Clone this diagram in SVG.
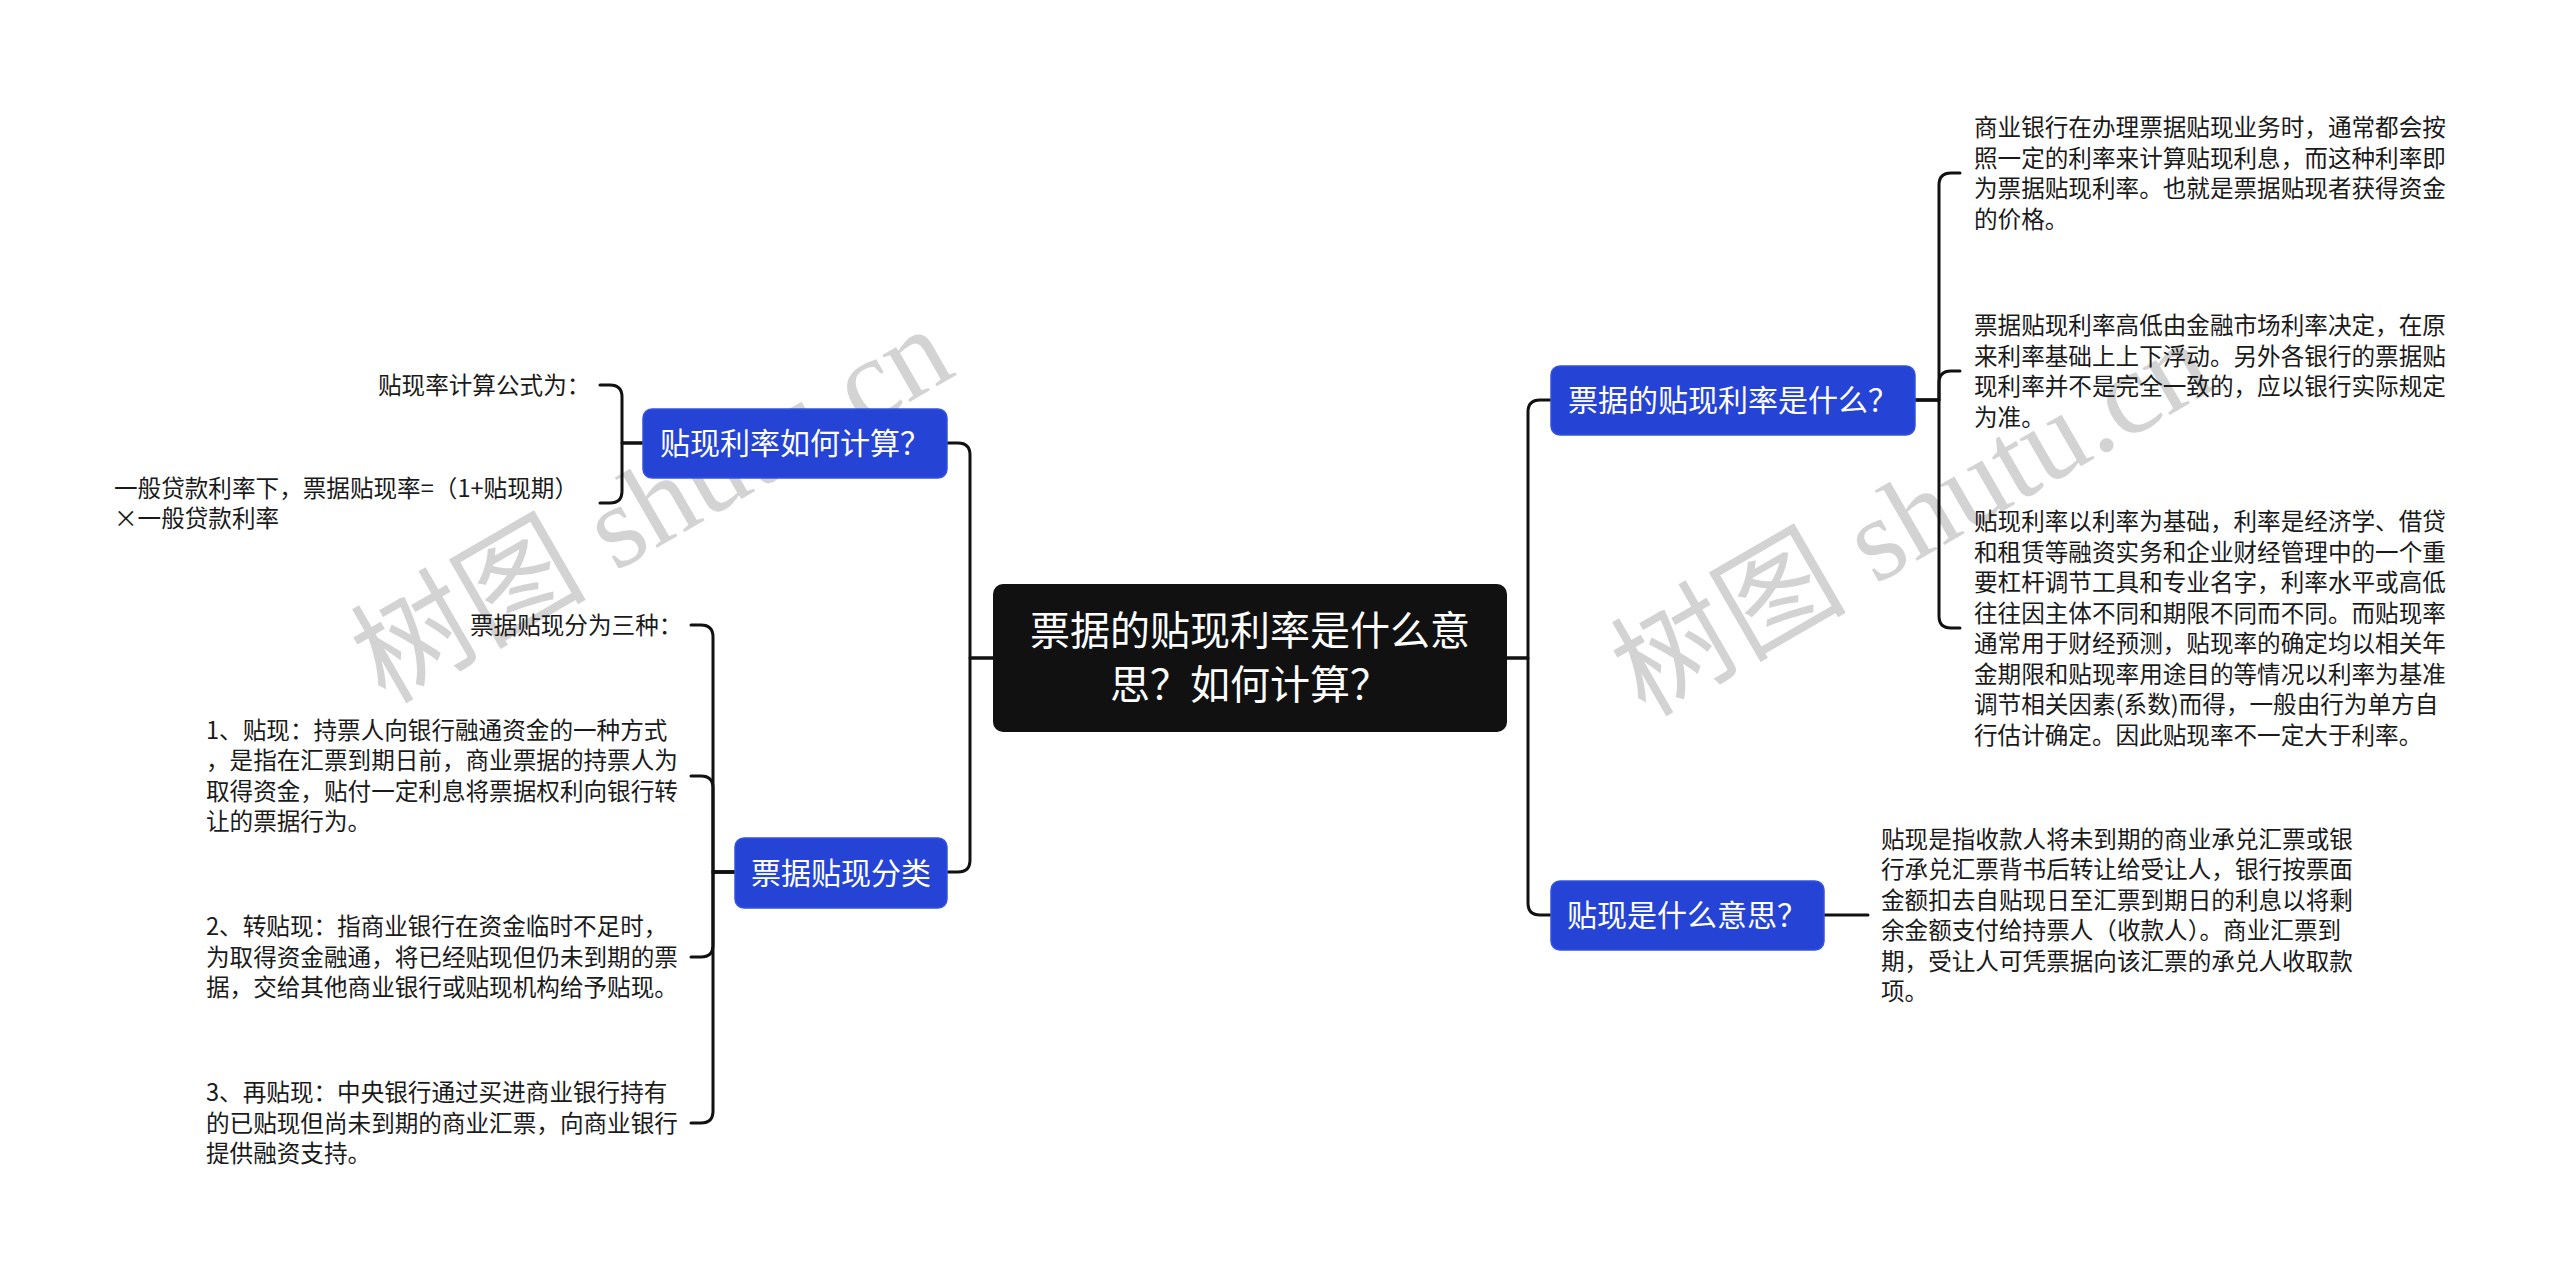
<svg xmlns="http://www.w3.org/2000/svg" width="2560" height="1281" viewBox="0 0 2560 1281">
<style>
.wm{font-family:"Liberation Serif","Noto Sans CJK SC",serif;font-size:118px;fill:#d3d3d3;}
.conn{fill:none;stroke:#111;stroke-width:3;stroke-linecap:round;stroke-linejoin:round;}
.leaf{font-family:"Noto Sans CJK SC","Noto Sans",sans-serif;font-size:23.6px;fill:#1a1a1a;}
.topic rect{fill:#2544d6;stroke:#3552e0;stroke-width:1.5;}
.topic text{font-family:"Noto Sans CJK SC","Noto Sans",sans-serif;font-size:30px;fill:#fff;text-anchor:middle;}
.root rect{fill:#111;}
.root text{font-family:"Noto Sans CJK SC","Noto Sans",sans-serif;font-size:40px;fill:#fff;text-anchor:middle;}
</style>
<rect width="2560" height="1281" fill="#fff"/>
<g id="watermarks">
<text class="wm" x="652" y="505" text-anchor="middle" dominant-baseline="central" transform="rotate(-30 652 505)">树图 shutu.cn</text>
<text class="wm" x="1912" y="518" text-anchor="middle" dominant-baseline="central" transform="rotate(-30 1912 518)">树图 shutu.cn</text>
</g>
<g id="connectors">
<path class="conn" d="M993 658 H970 V455 Q970 443 958 443 H947"/>
<path class="conn" d="M993 658 H970 V860 Q970 872 958 872 H947"/>
<path class="conn" d="M643 443 H622 V397 Q622 385 610 385 H600"/>
<path class="conn" d="M643 443 H622 V491 Q622 503 610 503 H600"/>
<path class="conn" d="M735 872 H713 V637 Q713 625 701 625 H691"/>
<path class="conn" d="M735 872 H713 V788 Q713 776 701 776 H691"/>
<path class="conn" d="M735 872 H713 V945 Q713 957 701 957 H691"/>
<path class="conn" d="M735 872 H713 V1111 Q713 1123 701 1123 H691"/>
<path class="conn" d="M1507 658 H1528 V412 Q1528 400 1540 400 H1551"/>
<path class="conn" d="M1507 658 H1528 V903 Q1528 915 1540 915 H1551"/>
<path class="conn" d="M1915 400 H1939 V185 Q1939 173 1951 173 H1960"/>
<path class="conn" d="M1915 400 H1939 V383 Q1939 371 1951 371 H1960"/>
<path class="conn" d="M1915 400 H1939 V616 Q1939 628 1951 628 H1960"/>
<path class="conn" d="M1824 915 H1868"/>
</g>
<g id="root" class="root">
<rect x="993" y="584" width="514" height="148" rx="10"/>
<text x="1250" y="645">票据的贴现利率是什么意</text>
<text x="1250" y="699">思？如何计算？</text>
</g>
<g id="n-calc" class="topic">
<rect x="643" y="409" width="304" height="69" rx="9"/>
<text x="795" y="454">贴现利率如何计算？</text>
</g>
<g id="n-calc-1"><text class="leaf" x="378" y="394">贴现率计算公式为：</text></g>
<g id="n-calc-2"><text class="leaf"><tspan x="114" y="497">一般贷款利率下，票据贴现率=（1+贴现期）</tspan><tspan x="114" y="527">×一般贷款利率</tspan></text></g>
<g id="n-class" class="topic">
<rect x="735" y="838" width="212" height="70" rx="9"/>
<text x="841" y="884">票据贴现分类</text>
</g>
<g id="n-class-0"><text class="leaf" x="470" y="634">票据贴现分为三种：</text></g>
<g id="n-class-1"><text class="leaf"><tspan x="206" y="739">1、贴现：持票人向银行融通资金的一种方式</tspan><tspan x="206" y="769">，是指在汇票到期日前，商业票据的持票人为</tspan><tspan x="206" y="800">取得资金，贴付一定利息将票据权利向银行转</tspan><tspan x="206" y="830">让的票据行为。</tspan></text></g>
<g id="n-class-2"><text class="leaf"><tspan x="206" y="935">2、转贴现：指商业银行在资金临时不足时，</tspan><tspan x="206" y="966">为取得资金融通，将已经贴现但仍未到期的票</tspan><tspan x="206" y="996">据，交给其他商业银行或贴现机构给予贴现。</tspan></text></g>
<g id="n-class-3"><text class="leaf"><tspan x="206" y="1101">3、再贴现：中央银行通过买进商业银行持有</tspan><tspan x="206" y="1132">的已贴现但尚未到期的商业汇票，向商业银行</tspan><tspan x="206" y="1162">提供融资支持。</tspan></text></g>
<g id="n-rate" class="topic">
<rect x="1551" y="366" width="364" height="69" rx="9"/>
<text x="1733" y="411">票据的贴现利率是什么？</text>
</g>
<g id="n-rate-1"><text class="leaf"><tspan x="1974" y="136">商业银行在办理票据贴现业务时，通常都会按</tspan><tspan x="1974" y="167">照一定的利率来计算贴现利息，而这种利率即</tspan><tspan x="1974" y="197">为票据贴现利率。也就是票据贴现者获得资金</tspan><tspan x="1974" y="228">的价格。</tspan></text></g>
<g id="n-rate-2"><text class="leaf"><tspan x="1974" y="334">票据贴现利率高低由金融市场利率决定，在原</tspan><tspan x="1974" y="365">来利率基础上上下浮动。另外各银行的票据贴</tspan><tspan x="1974" y="395">现利率并不是完全一致的，应以银行实际规定</tspan><tspan x="1974" y="426">为准。</tspan></text></g>
<g id="n-rate-3"><text class="leaf"><tspan x="1974" y="530">贴现利率以利率为基础，利率是经济学、借贷</tspan><tspan x="1974" y="561">和租赁等融资实务和企业财经管理中的一个重</tspan><tspan x="1974" y="591">要杠杆调节工具和专业名字，利率水平或高低</tspan><tspan x="1974" y="622">往往因主体不同和期限不同而不同。而贴现率</tspan><tspan x="1974" y="652">通常用于财经预测，贴现率的确定均以相关年</tspan><tspan x="1974" y="683">金期限和贴现率用途目的等情况以利率为基准</tspan><tspan x="1974" y="713">调节相关因素(系数)而得，一般由行为单方自</tspan><tspan x="1974" y="744">行估计确定。因此贴现率不一定大于利率。</tspan></text></g>
<g id="n-mean" class="topic">
<rect x="1551" y="881" width="273" height="69" rx="9"/>
<text x="1687" y="926">贴现是什么意思？</text>
</g>
<g id="n-mean-1"><text class="leaf"><tspan x="1881" y="848">贴现是指收款人将未到期的商业承兑汇票或银</tspan><tspan x="1881" y="878">行承兑汇票背书后转让给受让人，银行按票面</tspan><tspan x="1881" y="909">金额扣去自贴现日至汇票到期日的利息以将剩</tspan><tspan x="1881" y="939">余金额支付给持票人（收款人）。商业汇票到</tspan><tspan x="1881" y="970">期，受让人可凭票据向该汇票的承兑人收取款</tspan><tspan x="1881" y="1000">项。</tspan></text></g>
</svg>
